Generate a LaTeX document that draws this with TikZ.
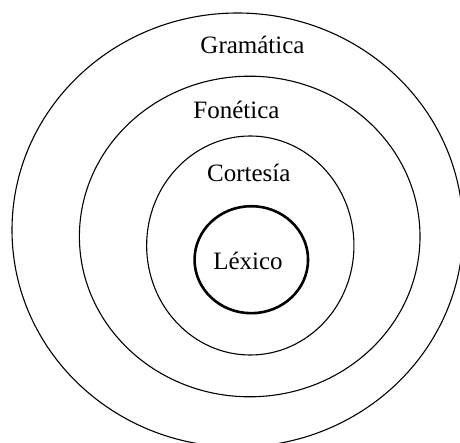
\documentclass[tikz,border=0pt]{standalone}
\usepackage{fontspec}
\setmainfont{Liberation Serif}
\usepackage{tikz}
\usetikzlibrary{shapes.geometric}

\begin{document}
\begin{tikzpicture}[x=1pt, y=1pt,
  ring/.style={draw, ellipse, inner sep=0pt, outer sep=0pt, line width=1.1pt},
  word/.style={anchor=base, inner sep=0pt, font=\fontsize{25}{30}\selectfont}]

\useasboundingbox (0,0) rectangle (460,442);

% ---- Concentric rings ----
\node[ring, minimum width=451pt, minimum height=434pt] (gramatica) at (237.5,212) {};
\node[ring, minimum width=340.6pt, minimum height=320.6pt] (fonetica) at (249.7,205.5) {};
\node[ring, minimum width=207.3pt, minimum height=219pt] (cortesia) at (250.3,196.5) {};
\node[ring, line width=2.6pt, minimum width=113.5pt, minimum height=107pt] (lexico) at (251.3,182.3) {};

% ---- Labels ----
\node[word] (gramaticaText) at (252.5,388.5) {Gramática};
\node[word] (foneticaText) at (236.4,323.7) {Fonética};
\node[word] (cortesiaText) at (248.8,260.3) {Cortesía};
\node[word] (lexicoText) at (248,172) {Léxico};

\end{tikzpicture}
\end{document}
